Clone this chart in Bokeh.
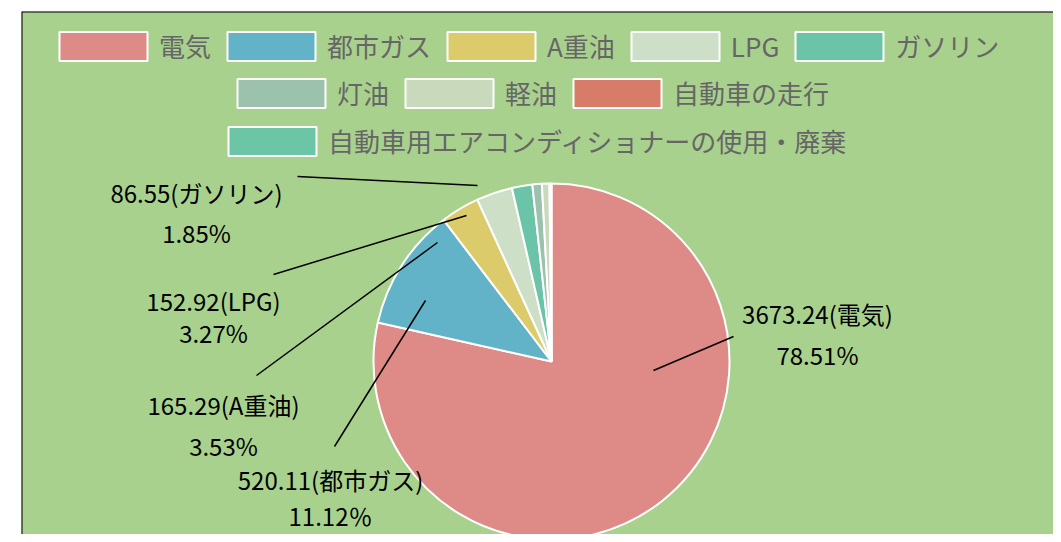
import math
from bokeh.plotting import figure
from bokeh.models import ColumnDataSource, Range1d, Span, Legend, LegendItem
from bokeh.core.properties import value
from bokeh.embed import file_html
from bokeh.resources import INLINE

# ---- data ----
categories = ["電気", "都市ガス", "A重油", "LPG", "ガソリン",
              "灯油", "軽油", "自動車の走行", "自動車用エアコンディショナーの使用・廃棄"]
emissions = [3673.24, 520.11, 165.29, 152.92, 86.55, 40.0, 32.0, 7.0, 1.4]
colors = ["#de8a87", "#63b3c8", "#dccb6a", "#cddfc6", "#6cc4a8",
          "#9cc2ad", "#c8d9bc", "#d67c68", "#6cc6a6"]
labelled = [0, 1, 2, 3, 4]          # slices that carry a data label
pct_suffix = ["%", "％", "%", "%", "%"]

# ---- layout (frame pixels, y measured downward) ----
W, H = 1053, 534
BL, BT = 21, 11
FW, FH = W - BL, H - BT
CX, CY, R = 530, 350, 178
label_pos = [(796, 302, 343), (309, 468, 504), (202, 393, 434), (192, 289, 321), (175, 181, 221)]
leader = [((632, 359), (712, 325)), ((313, 435), (404, 289)), ((235, 364), (416, 231)),
          ((252, 263), (445, 204)), ((276, 165), (456, 174))]
FONT = "Noto Sans CJK JP"

total = sum(emissions)
starts, ends = [], []
cum = 0.0
for v in emissions:
    a0 = math.pi / 2 - 2 * math.pi * cum / total
    cum += v
    a1 = math.pi / 2 - 2 * math.pi * cum / total
    starts.append(a1)
    ends.append(a0)

src = ColumnDataSource(dict(cat=categories, val=emissions, color=colors,
                            start=starts, end=ends,
                            x=[CX] * len(emissions), y=[CY] * len(emissions)))

p = figure(width=W, height=H, output_backend="svg", toolbar_location=None,
           x_range=Range1d(0, FW), y_range=Range1d(FH, 0),
           x_axis_location=None, y_axis_location=None,
           min_border_left=BL, min_border_top=BT,
           min_border_right=0, min_border_bottom=0,
           background_fill_color="#a9d18e", border_fill_color="white",
           outline_line_color=None)
p.grid.visible = False

r = p.wedge(x="x", y="y", radius=R, radius_units="screen",
            start_angle="start", end_angle="end", direction="anticlock",
            fill_color="color", line_color="white", line_width=2, source=src)

# leader lines
p.segment(x0=[a[0] for a, b in leader], y0=[a[1] for a, b in leader],
          x1=[b[0] for a, b in leader], y1=[b[1] for a, b in leader],
          line_color="black", line_width=1.5)

# data labels
t1x, t1y, t1, t2y, t2 = [], [], [], [], []
for k, i in enumerate(labelled):
    x, y1, y2 = label_pos[k]
    t1x.append(x); t1y.append(y1); t2y.append(y2)
    t1.append(f"{emissions[i]:.2f}({categories[i]})")
    t2.append(f"{100 * emissions[i] / total:.2f}{pct_suffix[k]}")
p.text(x=t1x, y=t1y, text=t1, text_align="center", text_baseline="middle",
       text_font=value(FONT), text_font_size="24px", text_color="black")
p.text(x=t1x, y=t2y, text=t2, text_align="center", text_baseline="middle",
       text_font=value(FONT), text_font_size="24px", text_color="black")

# frame border (top and left)
p.add_layout(Span(location=0, dimension="height", line_color="black", line_width=2))
p.add_layout(Span(location=0, dimension="width", line_color="black", line_width=2))

# legend rows: (items, x of legend in frame, bottom of legend from frame top)
rows = [([0, 1, 2, 3, 4], 27, 53), ([5, 6, 7], 205, 100), ([8], 196, 148)]
for idxs, lx, by in rows:
    items = [LegendItem(label=categories[i], renderers=[r], index=i) for i in idxs]
    lg = Legend(items=items, orientation="horizontal", location=(lx, FH - by),
                glyph_width=110, glyph_height=36, label_standoff=1, spacing=5,
                padding=0, margin=0, border_line_color=None, background_fill_alpha=0,
                label_text_font=FONT, label_text_font_size="26px",
                label_text_color="#666666")
    p.add_layout(lg, "center")

open("out.html", "w").write(file_html(p, INLINE))
